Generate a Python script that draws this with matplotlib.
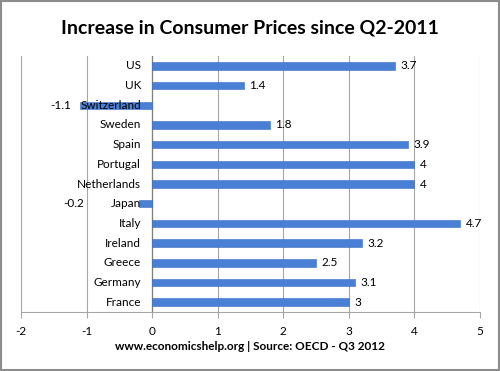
import matplotlib
matplotlib.use("Agg")
import matplotlib.pyplot as plt
from matplotlib.patches import Rectangle

countries = ["France", "Germany", "Greece", "Ireland", "Italy", "Japan", "Netherlands",
             "Portugal", "Spain", "Sweden", "Switzerland", "UK", "US"]
values = [3, 3.1, 2.5, 3.2, 4.7, -0.2, 4, 4, 3.9, 1.8, -1.1, 1.4, 3.7]
value_labels = ["3", "3.1", "2.5", "3.2", "4.7", "-0.2", "4", "4", "3.9", "1.8", "-1.1", "1.4", "3.7"]
x_ticks = [-2, -1, 0, 1, 2, 3, 4, 5]

FONT = "Lato"
BLUE = "#4A7FD6"
GRID = "#A6A6A6"

fig = plt.figure(figsize=(5.0, 3.71), dpi=100)
ax = fig.add_axes([0.042, 0.159, 0.918, 0.69])

ypos = list(range(len(countries)))
ax.barh(ypos, values, height=0.38, color=BLUE, edgecolor="#3A6CC0", linewidth=0.4, zorder=3)

ax.set_xlim(-2, 5)
ax.set_ylim(-0.5, len(countries) - 0.5)
ax.set_xticks(x_ticks)
ax.set_xticklabels([str(t) for t in x_ticks], fontsize=8.5, family=FONT)
ax.set_yticks([])
ax.xaxis.grid(True, color=GRID, linewidth=0.8, zorder=0)
ax.axvline(0, color="#808080", linewidth=0.9, zorder=2)
for s in ["top", "right", "left"]:
    ax.spines[s].set_visible(False)
ax.spines["bottom"].set_color(GRID)
ax.tick_params(axis="x", length=4, color=GRID, pad=6, labelcolor="black")

# category labels sit just left of the zero line (Excel style)
for y, name in zip(ypos, countries):
    ax.text(-0.17, y, name, ha="right", va="center", fontsize=8.5, family=FONT, zorder=4)

# value labels: positive to the right of the bar, negative left of the category label
for y, v, lab in zip(ypos, values, value_labels):
    if v >= 0:
        ax.text(v + 0.08, y, lab, ha="left", va="center", fontsize=8.5, family=FONT, zorder=4)
    else:
        ax.text(min(v, -0.9) - 0.14, y, lab, ha="right", va="center", fontsize=8.5,
                family=FONT, zorder=4)

fig.text(0.5, 0.925, "Increase in Consumer Prices since Q2-2011", ha="center", va="center",
         fontsize=14, fontweight="bold", family=FONT)
fig.text(0.5, 0.065, "www.economicshelp.org | Source: OECD - Q3 2012", ha="center", va="center",
         fontsize=8.5, fontweight="bold", family=FONT)

fig.patches.append(Rectangle((0.002, 0.003), 0.995, 0.994, transform=fig.transFigure,
                             fill=False, edgecolor="#8C8C8C", linewidth=1.5))

fig.savefig("out.png", dpi=100)
